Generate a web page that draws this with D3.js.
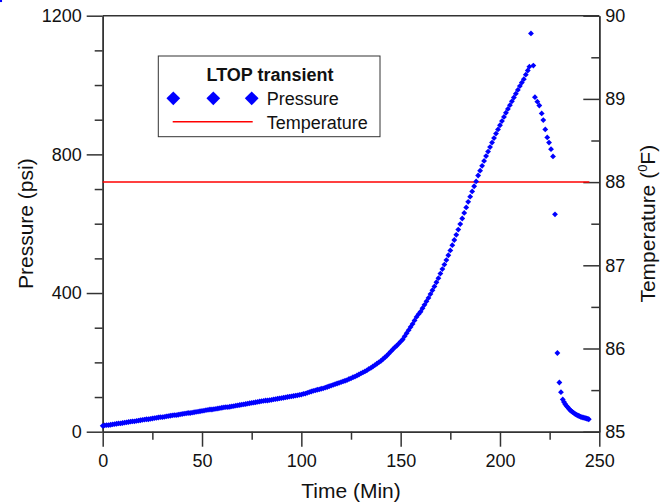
<!DOCTYPE html>
<html>
<head>
<meta charset="utf-8">
<script src="https://cdn.jsdelivr.net/npm/d3@7"></script>
<style>
body{margin:0;background:#fff;}
svg{font-family:"Liberation Sans",Arial,sans-serif;}
</style>
</head>
<body>
<script>
// pressure readings (time in min, pressure in psi)
var pressureTime = [];
for (var i = 0; i <= 214; i++) pressureTime.push(i);
pressureTime = pressureTime.concat([214.8, 215.6, 216.8, 217.6, 218.8, 219.8, 221, 221.8, 222.8, 223.8, 224.7, 225.7, 226.7,
  227.7, 228.9, 229.9, 230.7, 231.6, 232.2, 232.8, 233.4, 234, 234.6, 235.2, 235.8, 236.4, 237, 237.6, 238.2,
  238.8, 239.4, 240, 240.6, 241.2, 241.8, 242.4, 243, 243.6, 244.2, 244.7]);

var pressure = [
  17,18,19,19,20,21,22,23,24,24,25,26,27,28,29,30,30,31,32,33,
  34,35,36,36,37,38,39,40,41,42,42,43,44,45,46,47,48,48,49,50,
  51,52,53,54,54,55,56,57,58,59,60,61,62,63,64,64,65,66,67,68,
  69,70,71,71,72,73,74,75,76,77,78,79,80,81,82,83,84,85,86,87,
  88,89,90,90,91,92,93,94,95,96,97,98,99,100,101,102,103,104,105,106,
  107,109,110,112,114,116,118,119,121,122,124,125,127,129,131,133,135,137,139,141,
  143,145,147,149,152,154,157,159,162,165,168,171,174,177,181,184,188,192,196,200,
  204,209,214,219,225,231,237,243,248,254,260,266,275,284,293,302,311,321,331,339,
  346,356,366,376,386,397,408,419,431,443,456,469,482,495,509,523,538,553,568,583,
  599,615,631,647,663,678,693,708,722,739,753,767,781,795,808,821,834,847,860,872,
  884,896,908,920,931,942,953,964,975,986,997,1007,1017,1030,1042,
  1053,1149,1056,965,952,941,918,899,872,849,834,815,794,
  627,227,142,114,93,86,80,75,71,67,63,60,57,55,52,50,
  48,46,45,43,42,41,40,39,38,37,36,36
];

// temperature readings
var tempTime = [0, 245];
var temperature = [88, 88];

var xTicks = [0, 50, 100, 150, 200, 250];
var xMinor = [25, 75, 125, 175, 225];
var pTicks = [0, 400, 800, 1200];
var pMinor = [100, 200, 300, 500, 600, 700, 900, 1000, 1100];
var tTicks = [85, 86, 87, 88, 89, 90];
var tMinor = [85.5, 86.5, 87.5, 88.5, 89.5];

var W = 666, H = 502;
var pLeft = 102.7, pRight = 599.3, pTop = 15.7, pBottom = 431.7;

var svg = d3.select('body').append('svg').attr('width', W).attr('height', H);

var x = d3.scaleLinear().domain([0, 250]).range([pLeft, pRight]);
var yP = d3.scaleLinear().domain([0, 1200]).range([pBottom, pTop]);
var yT = d3.scaleLinear().domain([85, 90]).range([pBottom, pTop]);

var axisColor = '#333';

function styleAxis(g) {
  g.selectAll('path').attr('stroke', axisColor).attr('stroke-width', 1.5);
  g.selectAll('line').attr('stroke', axisColor).attr('stroke-width', 1.5);
  g.selectAll('text').attr('fill', '#111').style('font-size', '18px')
    .style('font-family', '"Liberation Sans",Arial,sans-serif');
}

// top frame line
svg.append('line')
  .attr('x1', pLeft).attr('x2', pRight).attr('y1', pTop).attr('y2', pTop)
  .attr('stroke', axisColor).attr('stroke-width', 1.5);

// bottom axis
svg.append('g').attr('transform', 'translate(0,' + pBottom + ')')
  .call(d3.axisBottom(x).tickValues(xMinor).tickSize(8).tickSizeOuter(0).tickFormat(''))
  .call(styleAxis);
svg.append('g').attr('transform', 'translate(0,' + pBottom + ')')
  .call(d3.axisBottom(x).tickValues(xTicks).tickSize(15).tickSizeOuter(0).tickPadding(8).tickFormat(d3.format('d')))
  .call(styleAxis);

// left axis
svg.append('g').attr('transform', 'translate(' + pLeft + ',0)')
  .call(d3.axisLeft(yP).tickValues(pMinor).tickSize(8).tickSizeOuter(0).tickFormat(''))
  .call(styleAxis);
svg.append('g').attr('transform', 'translate(' + pLeft + ',0)')
  .call(d3.axisLeft(yP).tickValues(pTicks).tickSize(16).tickSizeOuter(0).tickPadding(5).tickFormat(d3.format('d')))
  .call(styleAxis);

// right axis, ticks point inward
svg.append('g').attr('transform', 'translate(' + pRight + ',0)')
  .call(d3.axisRight(yT).tickValues(tMinor).tickSize(-8).tickSizeOuter(0).tickFormat(''))
  .call(styleAxis);
svg.append('g').attr('transform', 'translate(' + pRight + ',0)')
  .call(d3.axisRight(yT).tickValues(tTicks).tickSize(-16).tickSizeOuter(0).tickPadding(6).tickFormat(d3.format('d')))
  .call(styleAxis);

// temperature line
var tLine = d3.line().x(function(d, i) { return x(tempTime[i]); }).y(function(d) { return yT(d); });
svg.append('path').datum(temperature)
  .attr('d', tLine).attr('fill', 'none').attr('stroke', '#ff0000').attr('stroke-width', 1.5);

// pressure points
var diamond = d3.symbol().type(d3.symbolSquare).size(17);
svg.append('g').selectAll('path').data(pressure).enter().append('path')
  .attr('d', diamond)
  .attr('transform', function(d, i) { return 'translate(' + x(pressureTime[i]) + ',' + yP(d) + ') rotate(45)'; })
  .attr('fill', '#0000ff');

// axis titles
svg.append('text').text('Time (Min)')
  .attr('x', (pLeft + pRight) / 2).attr('y', 498)
  .attr('text-anchor', 'middle').style('font-size', '21px').attr('fill', '#111');

svg.append('text').text('Pressure (psi)')
  .attr('transform', 'translate(33,' + (pTop + pBottom) / 2 + ') rotate(-90)')
  .attr('text-anchor', 'middle').style('font-size', '21px').attr('fill', '#111');

var tt = svg.append('text')
  .attr('transform', 'translate(655,' + (pTop + pBottom) / 2 + ') rotate(-90)')
  .attr('text-anchor', 'middle').style('font-size', '21px').attr('fill', '#111');
tt.append('tspan').text('Temperature (');
tt.append('tspan').text('0').style('font-size', '13px').attr('dy', -8);
tt.append('tspan').text('F)').attr('dy', 8);

// legend
var lg = svg.append('g');
lg.append('rect').attr('x', 158.3).attr('y', 56).attr('width', 221.7).attr('height', 80.7)
  .attr('fill', '#fff').attr('stroke', axisColor).attr('stroke-width', 1);
lg.append('text').text('LTOP transient').attr('x', 270).attr('y', 81)
  .attr('text-anchor', 'middle').style('font-size', '18px').style('font-weight', 'bold').attr('fill', '#111');
var bigDiamond = d3.symbol().type(d3.symbolSquare).size(95);
[173.3, 213.3, 251.7].forEach(function(cx) {
  lg.append('path').attr('d', bigDiamond)
    .attr('transform', 'translate(' + cx + ',98.3) rotate(45)').attr('fill', '#0000ff');
});
lg.append('text').text('Pressure').attr('x', 266.7).attr('y', 104.5)
  .style('font-size', '18px').attr('fill', '#111');
lg.append('line').attr('x1', 172.7).attr('x2', 252.7).attr('y1', 121.7).attr('y2', 121.7)
  .attr('stroke', '#ff0000').attr('stroke-width', 1.5);
lg.append('text').text('Temperature').attr('x', 266.7).attr('y', 128.5)
  .style('font-size', '18px').attr('fill', '#111');
</script>
</body>
</html>
